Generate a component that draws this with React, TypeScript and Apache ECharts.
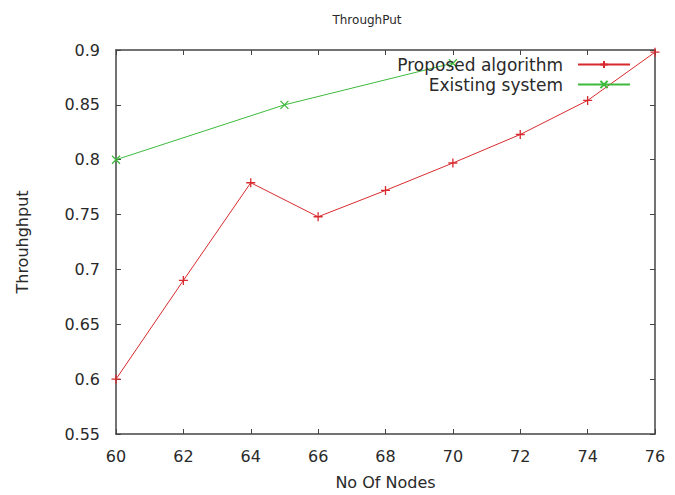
import React, { useEffect, useRef } from "react";
import * as echarts from "echarts";

const titleText = "ThroughPut";
const xName = "No Of Nodes";
const yName = "Throuhghput";

const proposedX = [60, 62, 64, 66, 68, 70, 72, 74, 76];
const proposedY = [0.6, 0.69, 0.779, 0.748, 0.772, 0.797, 0.823, 0.854, 0.898];
const existingX = [60, 65, 70];
const existingY = [0.8, 0.85, 0.888];

const seriesNames = ["Proposed algorithm", "Existing system"];

const RED = "#d82a2e";
const GREEN = "#3dba3d";
const AXIS = "#444";
const TEXT = "#2a2a2a";
const FONT = "'DejaVu Sans', sans-serif";

const PLUS = "path://M0,5L10,5M5,0L5,10";
const CROSS = "path://M0,0L10,10M10,0L0,10";

export default function App() {
  const ref = useRef<HTMLDivElement>(null);
  useEffect(() => {
    if (!ref.current) return;
    const chart = echarts.init(ref.current, undefined, { renderer: "svg" });
    const axisCommon = {
      axisLine: { show: true, lineStyle: { color: AXIS, width: 1.5 } },
      axisTick: { show: true, inside: true, length: 5, lineStyle: { color: AXIS, width: 1 } },
      splitLine: { show: false },
    };
    chart.setOption({
      animation: false,
      backgroundColor: "#fff",
      textStyle: { fontFamily: FONT },
      title: {
        text: titleText,
        left: 362,
        top: 9,
        textAlign: "center",
        textStyle: { fontSize: 12, fontWeight: "normal", color: TEXT, fontFamily: FONT },
      },
      legend: {
        data: seriesNames,
        orient: "vertical",
        right: 39,
        top: 51,
        align: "right",
        itemWidth: 52,
        itemHeight: 9,
        itemGap: 3,
        textStyle: { fontSize: 17, color: TEXT, fontFamily: FONT, padding: [0, 10, 0, 0] },
      },
      grid: { left: 116, top: 50, width: 539, height: 386, containLabel: false },
      xAxis: [
        {
          type: "value",
          min: 60,
          max: 76,
          interval: 2,
          name: xName,
          nameLocation: "middle",
          nameGap: 40,
          nameTextStyle: { fontSize: 16, color: TEXT, fontFamily: FONT },
          axisLabel: { fontSize: 16, color: TEXT, margin: 14, fontFamily: FONT },
          ...axisCommon,
        },
        {
          type: "value",
          position: "top",
          min: 60,
          max: 76,
          interval: 2,
          axisLabel: { show: false },
          ...axisCommon,
        },
      ],
      yAxis: [
        {
          type: "value",
          min: 0.55,
          max: 0.9,
          interval: 0.05,
          name: yName,
          nameLocation: "middle",
          nameGap: 86,
          nameTextStyle: { fontSize: 16, color: TEXT, fontFamily: FONT },
          axisLabel: {
            fontSize: 16,
            color: TEXT,
            margin: 16,
            fontFamily: FONT,
            formatter: (v: number) => String(+v.toFixed(2)),
          },
          ...axisCommon,
        },
        {
          type: "value",
          position: "right",
          min: 0.55,
          max: 0.9,
          interval: 0.05,
          axisLabel: { show: false },
          ...axisCommon,
        },
      ],
      series: [
        {
          name: seriesNames[0],
          type: "line",
          data: proposedX.map((x, i) => [x, proposedY[i]]),
          symbol: PLUS,
          symbolSize: 9,
          showAllSymbol: true,
          lineStyle: { color: RED, width: 1 },
          itemStyle: { color: RED, borderColor: RED, borderWidth: 1.3 },
          z: 3,
        },
        {
          name: seriesNames[1],
          type: "line",
          data: existingX.map((x, i) => [x, existingY[i]]),
          symbol: CROSS,
          symbolSize: 8,
          showAllSymbol: true,
          lineStyle: { color: GREEN, width: 1 },
          itemStyle: { color: GREEN, borderColor: GREEN, borderWidth: 1.3 },
          z: 2,
        },
      ],
    });
    return () => chart.dispose();
  }, []);
  return <div ref={ref} style={{ width: 675, height: 495, position: "absolute", left: 0, top: 0 }} />;
}
